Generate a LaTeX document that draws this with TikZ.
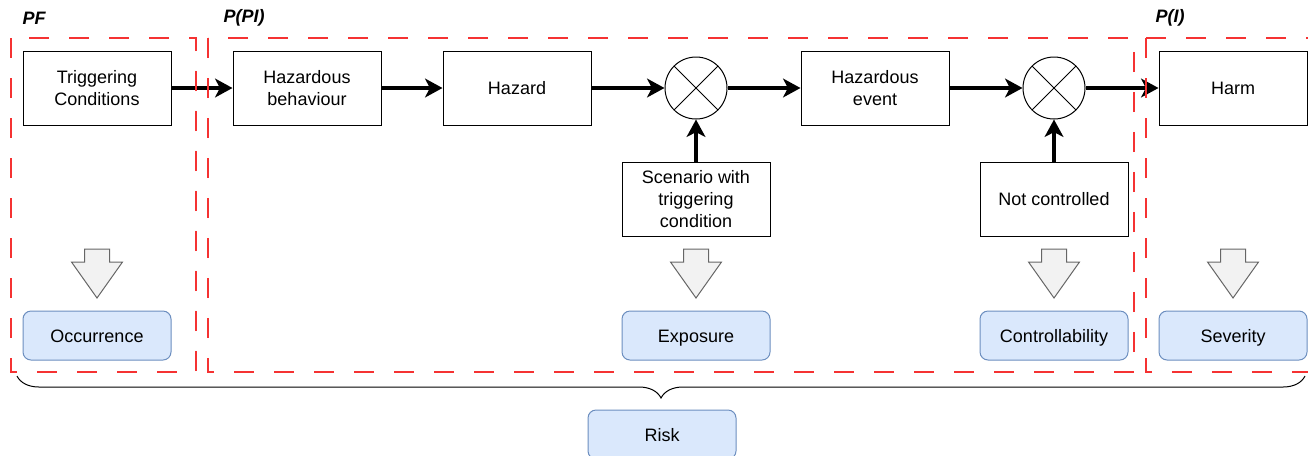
\documentclass[tikz,border=0pt]{standalone}
\usepackage{fontspec}
\setmainfont{Liberation Sans}
\usetikzlibrary{arrows.meta,decorations.pathreplacing}

\definecolor{groupred}{RGB}{245,50,50}
\definecolor{rateblue}{RGB}{218,232,252}
\definecolor{rateline}{RGB}{108,142,191}

\tikzset{every picture/.style={line width=0.75pt}}
\tikzset{
  stepbox/.style={draw=black, fill=white, minimum width=111pt, minimum height=55.5pt, align=center, inner sep=0.75pt},
  ratebox/.style={draw=rateline, fill=rateblue, rounded corners=6pt, minimum width=111pt, minimum height=36.75pt, align=center, inner sep=0.75pt, text height=12pt, text depth=1pt},
  mixer/.style={draw=black, fill=white, circle, minimum size=46.5pt, inner sep=0pt,
    path picture={\draw (path picture bounding box.north west) -- (path picture bounding box.south east)
      (path picture bounding box.north east) -- (path picture bounding box.south west);}},
  flow/.style={line width=2.6pt, -{Stealth[length=13pt,width=14pt,inset=3.5pt]}},
  group/.style={draw=groupred, line width=1.5pt, dash pattern=on 15pt off 15pt},
  grouplabel/.style={anchor=west, inner sep=0pt, font=\fontsize{13.5pt}{16.5pt}\selectfont\bfseries\itshape},
  pics/downarrow/.style={code={
    \draw[draw=black!60, fill=black!5] (-12.5,0) -- (12.5,0) -- (12.5,-13) -- (25.5,-13) -- (0,-49) -- (-25.5,-13) -- (-12.5,-13) -- cycle;}}
}

\begin{document}
\begin{tikzpicture}[x=0.75pt,y=0.75pt,yscale=-1,xscale=1,font=\fontsize{13.5pt}{16.5pt}\selectfont]
\useasboundingbox (0,0) rectangle (1308,455);

% Chain of events
\node[stepbox] (trig) at (97,88) {Triggering\\Conditions};
\node[stepbox] (hbeh) at (307,88) {Hazardous\\behaviour};
\node[stepbox] (hazard) at (517,88) {Hazard};
\node[mixer] (mix1) at (696,88) {};
\node[stepbox] (hevent) at (875,88) {Hazardous\\event};
\node[mixer] (mix2) at (1054,88) {};
\node[stepbox] (harm) at (1233,88) {Harm};
\node[stepbox] (scen) at (696,199.5) {Scenario with\\triggering\\condition};
\node[stepbox] (notctl) at (1054,199.5) {Not controlled};

% Connectors
\draw[flow] (trig) -- (hbeh);
\draw[flow] (hbeh) -- (hazard);
\draw[flow] (hazard) -- (mix1);
\draw[flow] (mix1) -- (hevent);
\draw[flow] (hevent) -- (mix2);
\draw[flow] (mix2) -- (harm);
\draw[flow] (scen) -- (mix1);
\draw[flow] (notctl) -- (mix2);

% Block arrows
\pic at (97,249) {downarrow};
\pic at (696,249) {downarrow};
\pic at (1054,249) {downarrow};
\pic at (1233,249) {downarrow};

% Ratings
\node[ratebox] (occ) at (97,335.5) {Occurrence};
\node[ratebox] (expo) at (696,335.5) {Exposure};
\node[ratebox] (ctrl) at (1054,335.5) {Controllability};
\node[ratebox] (sev) at (1233,335.5) {Severity};
\node[ratebox] (risk) at (662,434.5) {Risk};

% Groups
\draw[group] (11,38) rectangle (196,372);
\draw[group] (208,38) rectangle (1134,372);
\draw[group] (1146,38) rectangle (1322,372);
\node[grouplabel] (pf) at (22,18) {PF};
\node[grouplabel] (ppi) at (223,18) {P(PI)};
\node[grouplabel] (pi) at (1155,18) {P(I)};

% Brace
\draw[decorate, decoration={brace, mirror, amplitude=16.5pt}] (17,376) -- (1305,376);

\end{tikzpicture}
\end{document}
